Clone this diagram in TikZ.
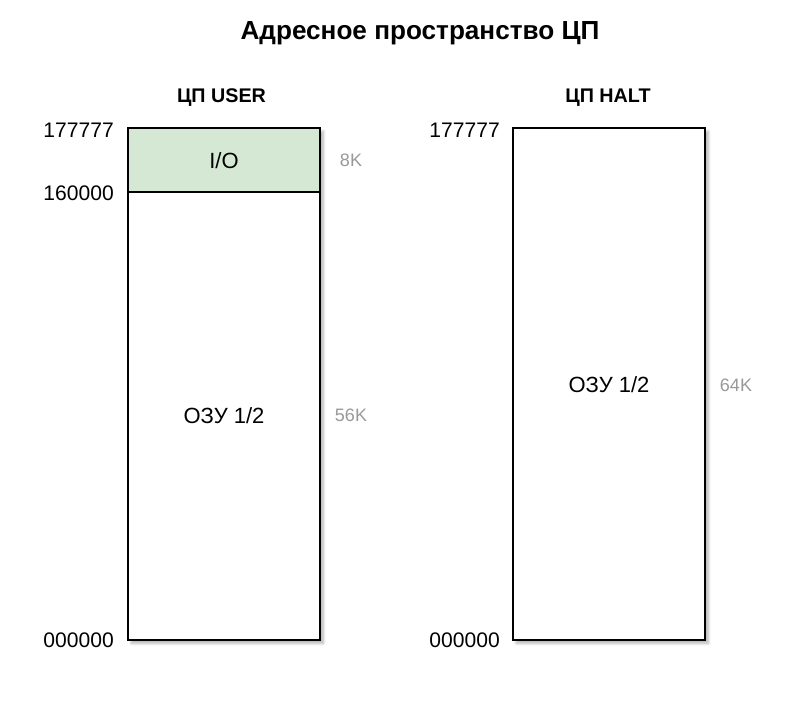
\documentclass[tikz,border=0pt]{standalone}
\usepackage{fontspec}
\setmainfont{Liberation Sans}
\usetikzlibrary{shadows.blur}
\begin{document}
\begin{tikzpicture}[x=0.75pt,y=-0.75pt,
  membox/.style={draw=black, line width=0.9pt, fill=white, blur shadow={shadow xshift=2.5pt, shadow yshift=-2.5pt, shadow blur steps=6, shadow opacity=30}},
  addr/.style={anchor=east, inner sep=0pt, font=\fontsize{15.8pt}{18pt}\selectfont},
  size/.style={inner sep=0pt, text=black!40, font=\fontsize{13.5pt}{16pt}\selectfont},
  region/.style={inner sep=0pt, font=\fontsize{16.5pt}{19pt}\selectfont},
  head/.style={anchor=base, inner sep=0pt, font=\bfseries\fontsize{14.8pt}{17pt}\selectfont}]
\useasboundingbox (0,0) rectangle (801,706);
\node[anchor=base, inner sep=0pt, font=\bfseries\fontsize{19.6pt}{23pt}\selectfont] (title) at (420,39.5) {Адресное пространство ЦП};
% left
\node[head] (hu) at (221.5,103) {ЦП USER};
\path[membox] (128,128) rectangle (320,640);
\fill[fill={rgb,255:red,213;green,232;blue,212}] (128,128) rectangle (320,192);
\draw[line width=0.9pt] (128,128) rectangle (320,640);
\draw[line width=0.9pt] (128,192) -- (320,192);
\node[region] (io) at (224,161) {I/O};
\node[region] (ozu1) at (224,415.5) {ОЗУ 1/2};
\node[size] (s8) at (351,160) {8K};
\node[size] (s56) at (351,415) {56K};
\node[addr] (a1) at (114,130) {177777};
\node[addr] (a2) at (114,193) {160000};
\node[addr] (a3) at (114,640) {000000};
% right
\node[head] (hh) at (608,103) {ЦП HALT};
\path[membox] (513,128) rectangle (705,640);
\node[region] (ozu2) at (609,385) {ОЗУ 1/2};
\node[size] (s64) at (736,385) {64K};
\node[addr] (b1) at (500,130) {177777};
\node[addr] (b3) at (500,640) {000000};
\end{tikzpicture}
\end{document}
